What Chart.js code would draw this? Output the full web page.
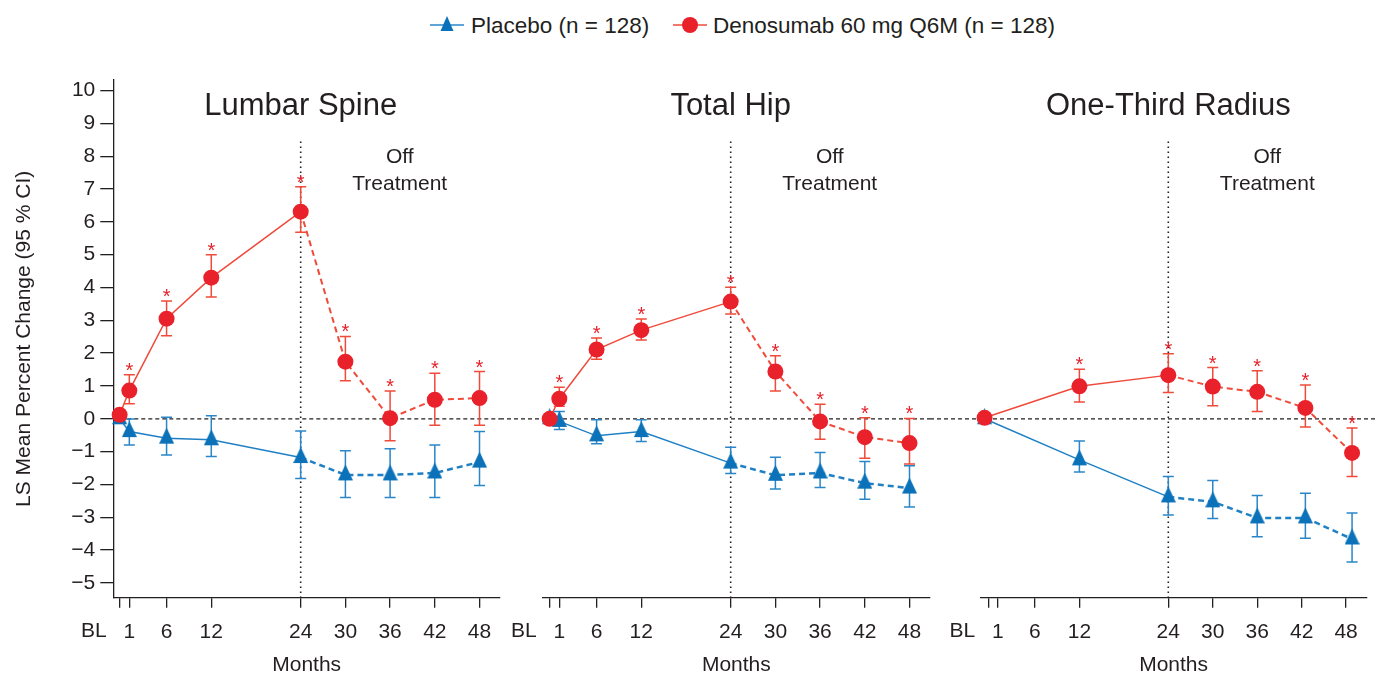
<!DOCTYPE html>
<html>
<head>
<meta charset="utf-8">
<script src="https://cdn.jsdelivr.net/npm/chart.js@4.4.1/dist/chart.umd.min.js"></script>
<style>
  body { margin: 0; background: #fff; width: 1376px; height: 675px; overflow: hidden; position: relative;
         font-family: "Liberation Sans", Arial, sans-serif; color: #231f20; }
  canvas { position: absolute; top: 0; }
  .key { position: absolute; top: 13px; font-size: 22.5px; line-height: 26px; white-space: nowrap; }
  .sym { position: absolute; top: 14px; }
</style>
</head>
<body>
<svg class="sym" style="left:430px" width="36" height="24">
  <line x1="0" y1="11" x2="34" y2="11" stroke="#2a86c8" stroke-width="1.5"/>
  <polygon points="17,2 23.5,17 10.5,17" fill="#0b72b9"/>
</svg>
<div class="key" style="left:471px">Placebo (n = 128)</div>
<svg class="sym" style="left:673px" width="36" height="24">
  <line x1="0" y1="11" x2="34" y2="11" stroke="#ef4a3a" stroke-width="1.5"/>
  <circle cx="17" cy="11" r="8" fill="#e8212b"/>
</svg>
<div class="key" style="left:713px">Denosumab 60 mg Q6M (n = 128)</div>

<canvas id="c1" width="521" height="675" style="left:0"></canvas>
<canvas id="c2" width="450" height="675" style="left:500px"></canvas>
<canvas id="c3" width="446" height="675" style="left:930px"></canvas>

<script>
// x ticks (BL drawn just left of month 1)
const tickMonths = [-0.3, 1, 6, 12, 24, 30, 36, 42, 48];
const tickLabels = ['BL', '1', '6', '12', '24', '30', '36', '42', '48'];
const yTicks = [-5, -4, -3, -2, -1, 0, 1, 2, 3, 4, 5, 6, 7, 8, 9, 10];

// Lumbar spine
const spineMonths = [-0.3, 1, 6, 12, 24, 30, 36, 42, 48];
const spineDmab   = [0.12, 0.86, 3.05, 4.30, 6.31, 1.74, 0.02, 0.58, 0.63];
const spineDmabLo = [null, 0.46, 2.53, 3.71, 5.68, 1.16, -0.67, -0.20, -0.20];
const spineDmabHi = [null, 1.34, 3.59, 5.00, 7.07, 2.51, 0.85, 1.39, 1.44];
const spinePbo    = [0, -0.39, -0.59, -0.64, -1.18, -1.71, -1.71, -1.65, -1.32];
const spinePboLo  = [null, -0.80, -1.10, -1.15, -1.82, -2.40, -2.40, -2.40, -2.03];
const spinePboHi  = [null, -0.01, 0.05, 0.09, -0.37, -0.97, -0.91, -0.80, -0.39];

// Total hip
const hipMonths = [-0.3, 1, 6, 12, 24, 30, 36, 42, 48];
const hipDmab   = [0, 0.61, 2.11, 2.70, 3.57, 1.44, -0.08, -0.56, -0.74];
const hipDmabLo = [null, 0.38, 1.81, 2.40, 3.19, 0.85, -0.62, -1.20, -1.38];
const hipDmabHi = [null, 0.96, 2.46, 3.04, 4.01, 1.92, 0.44, 0.03, 0.01];
const hipPbo    = [0, -0.08, -0.52, -0.39, -1.35, -1.72, -1.65, -1.96, -2.11];
const hipPboLo  = [null, -0.33, -0.76, -0.69, -1.67, -2.14, -2.09, -2.45, -2.69];
const hipPboHi  = [null, 0.22, -0.03, -0.03, -0.87, -1.17, -1.03, -1.30, -1.43];

// One-third radius
const radiusMonths = [-0.8, 12, 24, 30, 36, 42.5, 48.8];
const radiusDmab   = [0.03, 0.99, 1.33, 0.98, 0.82, 0.33, -1.04];
const radiusDmabLo = [null, 0.51, 0.80, 0.40, 0.22, -0.25, -1.76];
const radiusDmabHi = [null, 1.51, 1.98, 1.56, 1.46, 1.03, -0.28];
const radiusPbo    = [0, -1.25, -2.38, -2.53, -3.02, -3.02, -3.66];
const radiusPboLo  = [null, -1.62, -2.93, -3.04, -3.59, -3.64, -4.36];
const radiusPboHi  = [null, -0.68, -1.76, -1.88, -2.34, -2.27, -2.87];

const ink = '#231f20';
const red = '#e8212b', redLine = '#ef4a3a';
const blue = '#0b72b9', blueLine = '#1f80c4', blueErr = '#2a86c8';
const font = '"Liberation Sans", Arial, sans-serif';

// taller-than-wide triangle, centroid at the canvas centre
function triangle(w, h, color) {
  const c = document.createElement('canvas');
  c.width = w; c.height = Math.round(h * 4 / 3);
  const g = c.getContext('2d');
  g.fillStyle = color;
  g.beginPath();
  g.moveTo(w / 2, 0); g.lineTo(w, h); g.lineTo(0, h);
  g.closePath(); g.fill();
  return c;
}
const triMark = triangle(15, 16, blue);

const decor = {
  id: 'decor',
  beforeDatasetsDraw(chart, args, o) {
    const ctx = chart.ctx, xs = chart.scales.x, ys = chart.scales.y, a = chart.chartArea;
    ctx.save();
    // zero reference line (runs on through the gaps between panels)
    const y0 = ys.getPixelForValue(0);
    ctx.strokeStyle = ink; ctx.lineWidth = 1.3; ctx.setLineDash([4, 3]);
    ctx.beginPath(); ctx.moveTo(o.zeroFrom === 'plot' ? a.left : o.zeroFrom, y0); ctx.lineTo(o.zeroTo, y0); ctx.stroke();
    // end of treatment
    const x24 = xs.getPixelForValue(24);
    ctx.setLineDash([1.6, 3.4]); ctx.lineWidth = 1.6;
    ctx.beginPath(); ctx.moveTo(x24, ys.getPixelForValue(8.45)); ctx.lineTo(x24, a.bottom); ctx.stroke();
    ctx.setLineDash([]);
    // error bars and significance stars
    chart.data.datasets.forEach((ds, di) => {
      const meta = chart.getDatasetMeta(di);
      meta.data.forEach((pt, i) => {
        const lo = ds.errLo[i], hi = ds.errHi[i];
        if (lo == null) return;
        const yl = ys.getPixelForValue(lo), yh = ys.getPixelForValue(hi);
        ctx.strokeStyle = ds.errColor; ctx.lineWidth = 1.5;
        ctx.beginPath();
        ctx.moveTo(pt.x, yl); ctx.lineTo(pt.x, yh);
        ctx.moveTo(pt.x - 5.5, yl); ctx.lineTo(pt.x + 5.5, yl);
        ctx.moveTo(pt.x - 5.5, yh); ctx.lineTo(pt.x + 5.5, yh);
        ctx.stroke();
        if (ds.stars) {
          ctx.fillStyle = red; ctx.font = '20px ' + font;
          ctx.textAlign = 'center'; ctx.textBaseline = 'alphabetic';
          ctx.fillText('*', pt.x, yh + 2);
        }
      });
    });
    // BL label sits left of its tick
    ctx.fillStyle = ink; ctx.font = '21px ' + font;
    ctx.textAlign = 'right'; ctx.textBaseline = 'middle';
    ctx.fillText(tickLabels[0], xs.getPixelForValue(tickMonths[0]) - 13, a.bottom + 34);
    // panel title and off-treatment note
    ctx.textAlign = 'center';
    ctx.font = '31px ' + font;
    ctx.fillText(o.title, x24, 106);
    ctx.font = '21px ' + font;
    ctx.fillText('Off', x24 + 99, 157);
    ctx.fillText('Treatment', x24 + 99, 184);
    ctx.restore();
  }
};

function panel(id, title, months, dm, dmLo, dmHi, pb, pbLo, pbHi, showY, xMin, pad, zero) {
  const dashAfter24 = (dash, w1, w2) => ({
    borderDash: c => c.p0.parsed.x >= 24 ? dash : undefined,
    borderWidth: c => c.p0.parsed.x >= 24 ? w2 : w1
  });
  new Chart(document.getElementById(id), {
    type: 'line',
    data: {
      datasets: [{
        label: 'Denosumab 60 mg Q6M (n = 128)',
        data: months.map((m, i) => ({x: m, y: dm[i]})),
        errLo: dmLo, errHi: dmHi, errColor: redLine, stars: true,
        borderColor: redLine, borderWidth: 1.5,
        pointStyle: 'circle', pointRadius: 8, pointBackgroundColor: red, pointBorderColor: red, pointBorderWidth: 0,
        segment: dashAfter24([6, 4], 1.5, 2),
        clip: false
      }, {
        label: 'Placebo (n = 128)',
        data: months.map((m, i) => ({x: m, y: pb[i]})),
        errLo: pbLo, errHi: pbHi, errColor: blueErr,
        borderColor: blueLine, borderWidth: 1.5,
        pointStyle: triMark, pointRadius: 8,
        segment: dashAfter24([6, 4], 1.5, 2.5),
        clip: false
      }]
    },
    options: {
      responsive: false, animation: false, events: [],
      layout: {padding: {left: pad[0], right: pad[1], top: 80, bottom: 0}},
      plugins: {legend: {display: false}, tooltip: {enabled: false},
                decor: {title: title, zeroFrom: zero[0], zeroTo: zero[1]}},
      scales: {
        x: {
          type: 'linear', min: xMin, max: 50.75,
          afterFit: s => { s.height = 77.3; },
          afterBuildTicks: s => { s.ticks = tickMonths.map(v => ({value: v})); },
          border: {color: ink, width: 1.3},
          grid: {drawOnChartArea: false, tickLength: 10, color: ink, lineWidth: 1.3},
          ticks: {autoSkip: false, maxRotation: 0, padding: 12, color: ink, font: {family: font, size: 21},
                  callback: (v, i) => i === 0 ? '' : tickLabels[i]},
          title: {display: true, text: 'Months', color: ink, font: {family: font, size: 21, lineHeight: 1},
                  padding: {top: 0, bottom: -1}}
        },
        y: {
          display: showY, min: -5.45, max: 10.32,
          afterFit: s => { s.width = showY ? 113.3 : 0; },
          afterBuildTicks: s => { s.ticks = yTicks.map(v => ({value: v})); },
          border: {color: ink, width: 1.3},
          grid: {drawOnChartArea: false, tickLength: 13, color: ink, lineWidth: 1.3},
          ticks: {padding: 5, color: ink, font: {family: font, size: 21},
                  callback: v => v < 0 ? '\u2212' + Math.abs(v) : String(v)},
          title: {display: true, text: 'LS Mean Percent Change (95 % CI)', color: ink,
                  font: {family: font, size: 21}, padding: {top: 12, bottom: 0}}
        }
      }
    },
    plugins: [decor]
  });
}

panel('c1', 'Lumbar Spine', spineMonths, spineDmab, spineDmabLo, spineDmabHi,
      spinePbo, spinePboLo, spinePboHi, true, -1.15, [0, 21], ['plot', 500]);
panel('c2', 'Total Hip', hipMonths, hipDmab, hipDmabLo, hipDmabHi,
      hipPbo, hipPboLo, hipPboHi, false, -1.23, [42.7, 20], [0, 430]);
panel('c3', 'One-Third Radius', radiusMonths, radiusDmab, radiusDmabLo, radiusDmabHi,
      radiusPbo, radiusPboLo, radiusPboHi, false, -1.32, [50.7, 8], [0, 446]);
</script>
</body>
</html>
